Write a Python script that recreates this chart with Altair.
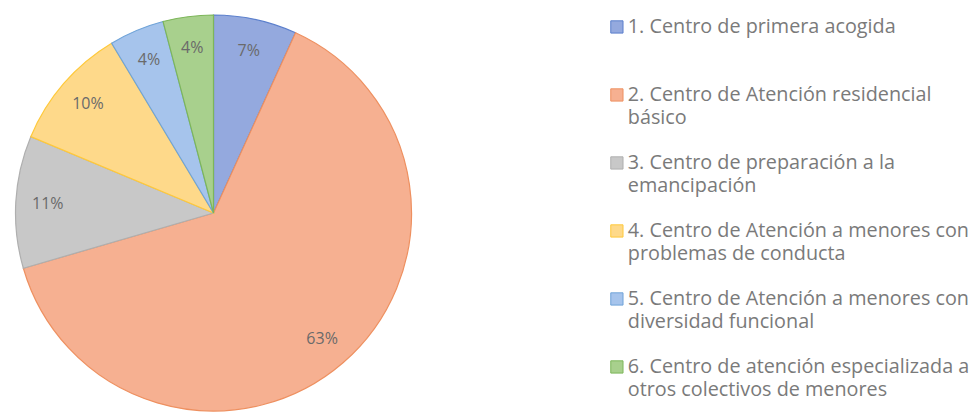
import altair as alt
import pandas as pd

categories = [
    "1. Centro de primera acogida\n ",
    "2. Centro de Atención residencial\nbásico",
    "3. Centro de preparación a la\nemancipación",
    "4. Centro de Atención a menores con\nproblemas de conducta",
    "5. Centro de Atención a menores con\ndiversidad funcional",
    "6. Centro de atención especializada a\notros colectivos de menores",
]
shares = [6.8, 63.7, 10.8, 10.1, 4.5, 4.1]
labels = ["7%", "63%", "11%", "10%", "4%", "4%"]
fill_colors = ["#94A9DE", "#F6B091", "#C8C8C8", "#FED98A", "#A6C4EC", "#A8D08D"]
stroke_colors = ["#5B7FCC", "#EE9060", "#AFAFAF", "#FFC93A", "#6FA3D8", "#7DB65A"]

df = pd.DataFrame({
    "cat": categories,
    "share": shares,
    "label": labels,
    "order": list(range(len(categories))),
})

# square symbol shifted down so it lines up with the first label line
SYMBOL = "M-1,0.64H1V2.64H-1Z"


def make_legend():
    return alt.Legend(
        orient="none",
        legendX=607,
        legendY=-8,
        title=None,
        labelExpr="split(datum.label, '\\n')",
        labelFont="Open Sans",
        labelFontSize=19.8,
        labelColor="#7a7a7a",
        labelLimit=500,
        labelOffset=1,
        labelBaseline="top",
        symbolType=SYMBOL,
        symbolSize=150,
        symbolStrokeWidth=1,
        symbolOffset=0,
        rowPadding=15,
        padding=0,
    )


base = alt.Chart(df).encode(
    theta=alt.Theta("share:Q", stack=True),
    order=alt.Order("order:Q"),
)

pie = base.mark_arc(strokeWidth=1.2).encode(
    fill=alt.Fill("cat:N", scale=alt.Scale(domain=categories, range=fill_colors), legend=make_legend()),
    stroke=alt.Stroke("cat:N", scale=alt.Scale(domain=categories, range=stroke_colors), legend=make_legend()),
)

text = base.mark_text(font="Open Sans", fontSize=16, color="#6a6a6a").encode(
    radius=alt.value(166),
    text="label:N",
)

chart = (
    alt.layer(pie, text)
    .properties(
        width=427,
        height=396,
        padding={"left": 0, "top": 15, "right": 547, "bottom": 2},
        autosize=alt.AutoSizeParams(type="none"),
    )
    .configure_view(stroke=None)
    .configure(background="white", style={"guide-label": {"lineHeight": 23}})
)

chart.save("out.html", embed_options={"renderer": "svg", "actions": False})
